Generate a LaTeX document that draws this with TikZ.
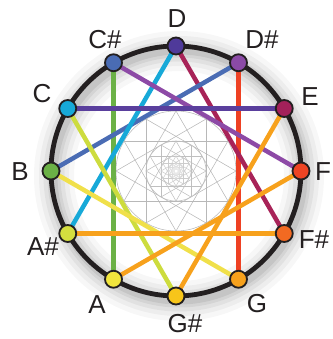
\documentclass[tikz,border=0pt]{standalone}
\usepackage{fontspec}
\setmainfont{Liberation Sans}
\usetikzlibrary{calc}
\pgfdeclarelayer{bg}
\pgfsetlayers{bg,main}
\definecolor{ringc}{HTML}{231F20}
\definecolor{cD}{HTML}{4F3A9A}
\definecolor{cDs}{HTML}{8B4AA6}
\definecolor{cE}{HTML}{A3215A}
\definecolor{cF}{HTML}{EE4423}
\definecolor{cFs}{HTML}{F26A22}
\definecolor{cG}{HTML}{F7A11C}
\definecolor{cGs}{HTML}{F7C51A}
\definecolor{cA}{HTML}{F1E53D}
\definecolor{cAs}{HTML}{D4DE3F}
\definecolor{cB}{HTML}{6BB146}
\definecolor{cC}{HTML}{17A9D8}
\definecolor{cCs}{HTML}{4A6CB4}
\definecolor{lIndigo}{HTML}{5A3F9D}
\definecolor{lPurple}{HTML}{8D4AA6}
\definecolor{lCrimson}{HTML}{A82358}
\definecolor{lRed}{HTML}{EE4123}
\definecolor{lOrange}{HTML}{F7A11C}
\definecolor{lYellow}{HTML}{F0E04A}
\definecolor{lYgreen}{HTML}{CDDC3E}
\definecolor{lGreen}{HTML}{6BB146}
\definecolor{lCyan}{HTML}{17A9D8}
\definecolor{lBlue}{HTML}{4A6CB4}
\begin{document}
\begin{tikzpicture}[x=1pt,y=1pt,
  dot/.style={circle,draw=ringc,line width=1.8pt,minimum size=17pt,inner sep=0pt,fill=#1},
  lab/.style={font=\fontsize{26}{30}\selectfont,text=ringc,inner sep=0pt},
  chord/.style={line width=4.5pt,draw=#1},
  patt/.style={draw=black!#1,line width=0.55pt}]
\useasboundingbox (-176,-168) rectangle (156,171);
\coordinate (O) at (0,0);
% dots
\foreach \n/\k/\c in {D/0/cD, Ds/1/cDs, E/2/cE, F/3/cF, Fs/4/cFs, G/5/cG,
                      Gs/6/cGs, A/7/cA, As/8/cAs, B/9/cB, C/10/cC, Cs/11/cCs}
  \node[dot=\c] (\n) at (90-30*\k:125) {};
% labels
\node[lab] (tD)  at (1,152)    {D};
\node[lab] (tDs) at (86,131)   {D\#};
\node[lab] (tE)  at (134,74)   {E};
\node[lab] (tF)  at (147,-1)   {F};
\node[lab] (tFs) at (138,-69)  {F\#};
\node[lab] (tG)  at (81,-133)  {G};
\node[lab] (tGs) at (9,-153)   {G\#};
\node[lab] (tA)  at (-79,-134) {A};
\node[lab] (tAs) at (-133,-76) {A\#};
\node[lab] (tB)  at (-156,-1)  {B};
\node[lab] (tC)  at (-134,77)  {C};
\node[lab] (tCs) at (-71,131)  {C\#};
\begin{pgfonlayer}{bg}
  % soft shadow of the ring
  \foreach \w/\o in {40/0.03, 30/0.04, 21/0.05, 13/0.06, 7/0.07}
    \draw[line width=\w, black, opacity=\o] ([shift={(3,-5)}]O) circle[radius=125];
  % self-similar gray pattern
  \foreach \R/\g in {60/28, 30/25, 15/20, 7.5/14, 3.75/9} {
    \draw[patt=\g] (O) circle[radius=\R];
    \foreach \k in {0,...,11}
      \draw[patt=\g] ($(O)+(90-30*\k:\R)$) -- ($(O)+(-30-30*\k:\R)$);
  }
  % ring
  \draw[ringc,line width=4.8pt] (O) circle[radius=125];
  % chords
  \draw[chord=lGreen]   (A.center)  -- (Cs.center);
  \draw[chord=lRed]     (Ds.center) -- (G.center);
  \draw[chord=lCrimson] (D.center)  -- (Fs.center);
  \draw[chord=lBlue]    (B.center)  -- (Ds.center);
  \draw[chord=lCyan]    (As.center) -- (D.center);
  \draw[chord=lPurple]  (Cs.center) -- (F.center);
  \draw[chord=lIndigo]  (C.center)  -- (E.center);
  \draw[chord=lYgreen]  (Gs.center) -- (C.center);
  \draw[chord=lYellow]  (G.center)  -- (B.center);
  \draw[chord=lOrange]  (Fs.center) -- (As.center);
  \draw[chord=lOrange]  (F.center)  -- (A.center);
  \draw[chord=lOrange]  (E.center)  -- (Gs.center);
\end{pgfonlayer}
\end{tikzpicture}
\end{document}
